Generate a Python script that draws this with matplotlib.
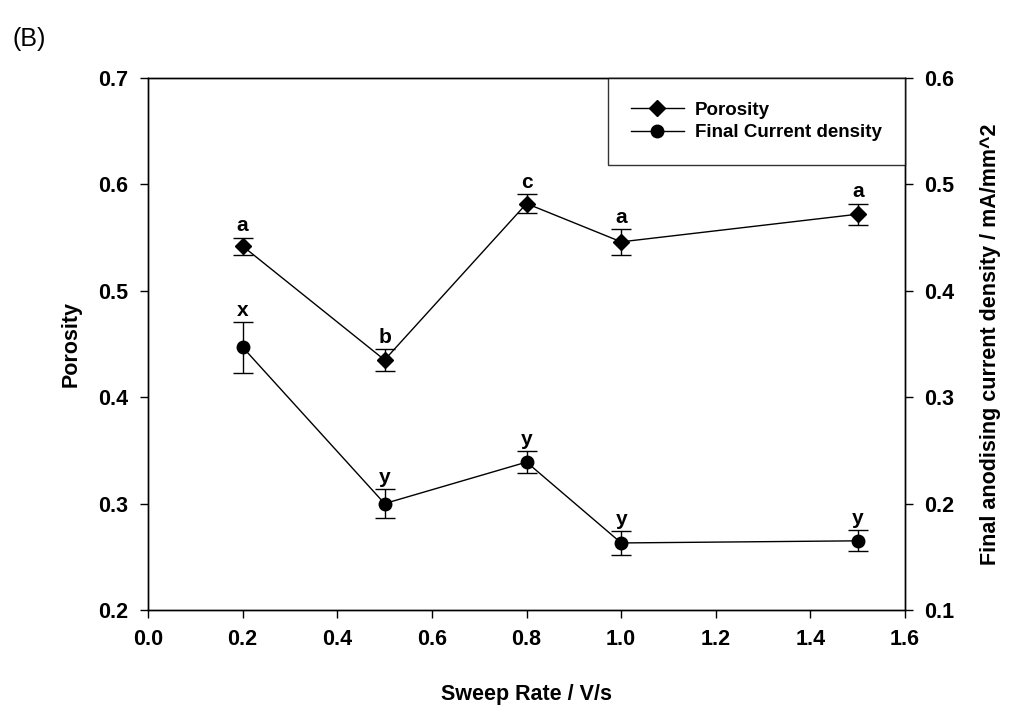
import matplotlib.pyplot as plt

plt.rcParams["font.family"] = ["Liberation Sans", "DejaVu Sans"]
plt.rcParams["font.weight"] = "bold"

# Data
sweep_rate = [0.2, 0.5, 0.8, 1.0, 1.5]  # V/s
porosity = [0.542, 0.435, 0.582, 0.546, 0.572]
porosity_err = [0.008, 0.010, 0.009, 0.012, 0.010]
porosity_letters = ["a", "b", "c", "a", "a"]
current = [0.347, 0.200, 0.239, 0.163, 0.165]  # mA/mm^2
current_err = [0.024, 0.014, 0.010, 0.011, 0.010]
current_letters = ["x", "y", "y", "y", "y"]

fig = plt.figure(figsize=(10.09, 7.06), dpi=100)
ax = fig.add_axes([0.1467, 0.136, 0.7503, 0.7535])
ax2 = ax.twinx()

l1, = ax.plot(sweep_rate, porosity, color="black", lw=1, marker="D", ms=8, label="Porosity")
ax.errorbar(sweep_rate, porosity, yerr=porosity_err, fmt="none", ecolor="black", elinewidth=1, capsize=7)
l2, = ax2.plot(sweep_rate, current, color="black", lw=1, marker="o", ms=9, label="Final Current density")
ax2.errorbar(sweep_rate, current, yerr=current_err, fmt="none", ecolor="black", elinewidth=1, capsize=7)

for x, y, e, t in zip(sweep_rate, porosity, porosity_err, porosity_letters):
    ax.text(x, y + e + 0.002, t, ha="center", va="bottom", fontsize=15, fontweight="bold")
for x, y, e, t in zip(sweep_rate, current, current_err, current_letters):
    ax2.text(x, y + e + 0.002, t, ha="center", va="bottom", fontsize=15, fontweight="bold")

ax.set_xlim(0.0, 1.6)
ax.set_ylim(0.2, 0.7)
ax2.set_ylim(0.1, 0.6)
ax.set_xticks([0.0, 0.2, 0.4, 0.6, 0.8, 1.0, 1.2, 1.4, 1.6])
ax.set_yticks([0.2, 0.3, 0.4, 0.5, 0.6, 0.7])
ax2.set_yticks([0.1, 0.2, 0.3, 0.4, 0.5, 0.6])
ax.xaxis.set_major_formatter(plt.FormatStrFormatter("%.1f"))
ax.yaxis.set_major_formatter(plt.FormatStrFormatter("%.1f"))
ax2.yaxis.set_major_formatter(plt.FormatStrFormatter("%.1f"))

for a in (ax, ax2):
    a.tick_params(direction="out", length=6, width=1, labelsize=15.5, pad=8)
    for s in a.spines.values():
        s.set_linewidth(1)

ax.set_xlabel("Sweep Rate / V/s", fontsize=15.5, fontweight="bold", labelpad=24)
ax.set_ylabel("Porosity", fontsize=15.5, fontweight="bold", labelpad=12)
ax2.set_ylabel("Final anodising current density / mA/mm^2", fontsize=15.5, fontweight="bold", labelpad=18)

leg = ax2.legend(handles=[l1, l2], loc="upper right", fontsize=13.5, frameon=True, fancybox=False,
                 borderaxespad=0, handlelength=2.8, borderpad=1.25, labelspacing=0.3,
                 handletextpad=0.6)
leg.get_frame().set_edgecolor("black")
leg.get_frame().set_linewidth(1)
for t in leg.get_texts():
    t.set_fontweight("bold")

fig.text(0.012, 0.935, "(B)", fontsize=18, fontweight="normal")

fig.savefig("out.png", dpi=100)
